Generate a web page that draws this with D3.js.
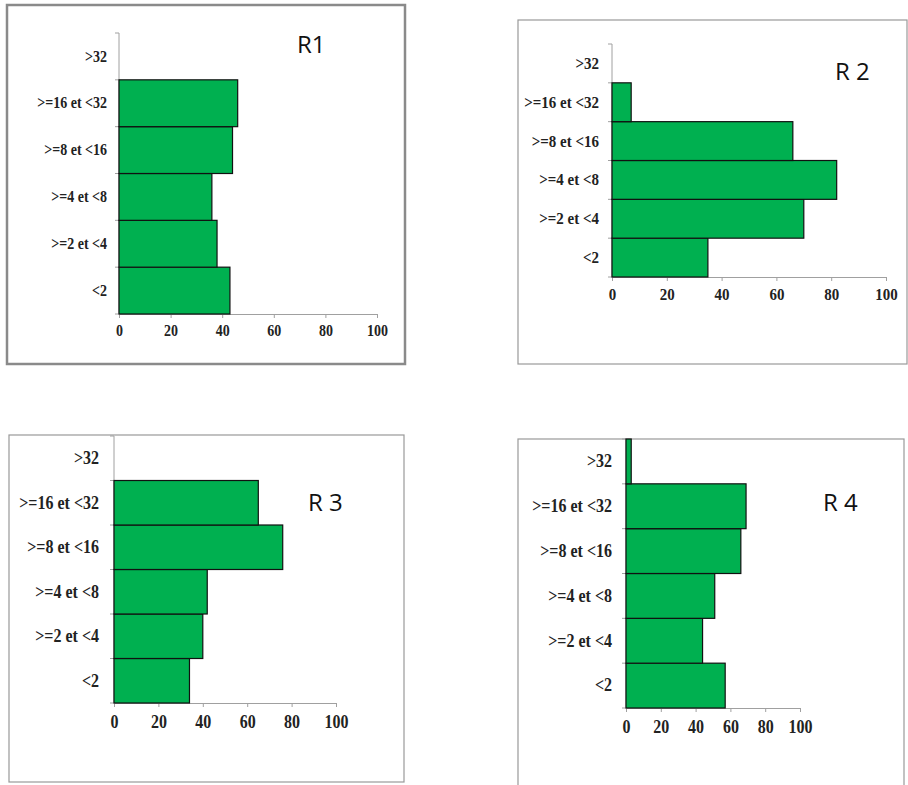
<!DOCTYPE html>
<html>
<head>
<meta charset="utf-8">
<script src="https://cdn.jsdelivr.net/npm/d3@7/dist/d3.min.js"></script>
<style>
body{margin:0;background:#fff;}
</style>
</head>
<body>
<div id="chart"></div>
<script>
// categories bottom -> top
var categories = ["<2", ">=2 et <4", ">=4 et <8", ">=8 et <16", ">=16 et <32", ">32"];
var r1 = [43, 38, 36, 44, 46, 0];
var r2 = [35, 70, 82, 66, 7, 0];
var r3 = [34, 40, 42, 76, 65, 0];
var r4 = [57, 44, 51, 66, 69, 3];
var xTicks = [0, 20, 40, 60, 80, 100];
var titles = ["R1", "R 2", "R 3", "R 4"];

var barColor = "#00B050";
var axisColor = "#a0a0a0";
var frameColor = "#999";
var stretch = 1.15; // labels in the picture are a bit taller than wide

// layout of each panel
var panels = [
	{values:r1, title:titles[0], frame:[7,5,398,359], fw:2.5, fc:"#8a8a8a", x0:119, x1:377, yTop:33, yBot:314, fs:14, pad:12, tx:297, ty:53},
	{values:r2, title:titles[1], frame:[518,20,389,344], fw:1.2, fc:frameColor, x0:612, x1:886, yTop:44, yBot:277, fs:15, pad:13, tx:835, ty:80},
	{values:r3, title:titles[2], frame:[9,435,395,347], fw:1.2, fc:frameColor, x0:114, x1:336, yTop:436, yBot:703, fs:16, pad:15, tx:308, ty:511},
	{values:r4, title:titles[3], frame:[518,439,386,400], fw:1.2, fc:frameColor, x0:626, x1:800, yTop:439, yBot:708, fs:16, pad:14, tx:823, ty:511}
];

var svg = d3.select("#chart")
	.append("svg")
	.attr("width", 908)
	.attr("height", 785);

function labelStyle(sel, fs){
	sel.attr("fill", "#222")
		.style("font-family", "'Liberation Serif', 'Times New Roman', serif")
		.style("font-weight", "bold")
		.style("font-size", fs + "px");
}

panels.forEach(function(p){
	var data = categories.map(function(c, i){ return {cat:c, v:p.values[i]}; });

	svg.append("rect")
		.attr("x", p.frame[0])
		.attr("y", p.frame[1])
		.attr("width", p.frame[2])
		.attr("height", p.frame[3])
		.attr("fill", "none")
		.attr("stroke", p.fc)
		.attr("stroke-width", p.fw);

	var x = d3.scaleLinear().domain([0, 100]).range([p.x0, p.x1]);
	var y = d3.scaleBand().domain(categories.slice().reverse()).range([p.yTop, p.yBot]).padding(0);

	var g = svg.append("g");

	// x axis
	var xa = g.append("g")
		.attr("transform", "translate(0," + p.yBot + ")")
		.call(d3.axisBottom(x).tickValues(xTicks).tickSize(4).tickSizeOuter(0));
	xa.select(".domain").attr("stroke", axisColor);
	xa.selectAll(".tick line").attr("stroke", axisColor);
	xa.selectAll("text")
		.attr("y", p.fs * 1.56 / stretch - p.fs * 0.71)
		.attr("transform", "scale(1," + stretch + ")")
		.call(labelStyle, p.fs);

	// y axis line + ticks at band edges
	g.append("line")
		.attr("x1", p.x0).attr("x2", p.x0)
		.attr("y1", p.yTop).attr("y2", p.yBot)
		.attr("stroke", axisColor);
	var edges = categories.map(function(c){ return y(c); }).concat([p.yBot]);
	g.selectAll(".ytick")
		.data(edges)
		.enter()
		.append("line")
		.attr("x1", p.x0 - 4).attr("x2", p.x0)
		.attr("y1", function(d){ return d; })
		.attr("y2", function(d){ return d; })
		.attr("stroke", axisColor);

	var ya = g.append("g")
		.attr("transform", "translate(" + p.x0 + ",0)")
		.call(d3.axisLeft(y).tickSize(0).tickPadding(p.pad));
	ya.select(".domain").remove();
	ya.selectAll("text")
		.attr("transform", "scale(1," + stretch + ")")
		.call(labelStyle, p.fs);

	// bars
	g.selectAll(".bar")
		.data(data.filter(function(d){ return d.v > 0; }))
		.enter()
		.append("rect")
		.attr("x", x(0))
		.attr("y", function(d){ return y(d.cat); })
		.attr("width", function(d){ return x(d.v) - x(0); })
		.attr("height", y.bandwidth())
		.attr("fill", barColor)
		.attr("stroke", "#111")
		.attr("stroke-width", 1.2);

	svg.append("text")
		.attr("x", p.tx)
		.attr("y", p.ty)
		.attr("fill", "#111")
		.style("font-family", "'Open Sans', 'Noto Sans', sans-serif")
		.style("font-size", "24px")
		.text(p.title);
});
</script>
</body>
</html>
